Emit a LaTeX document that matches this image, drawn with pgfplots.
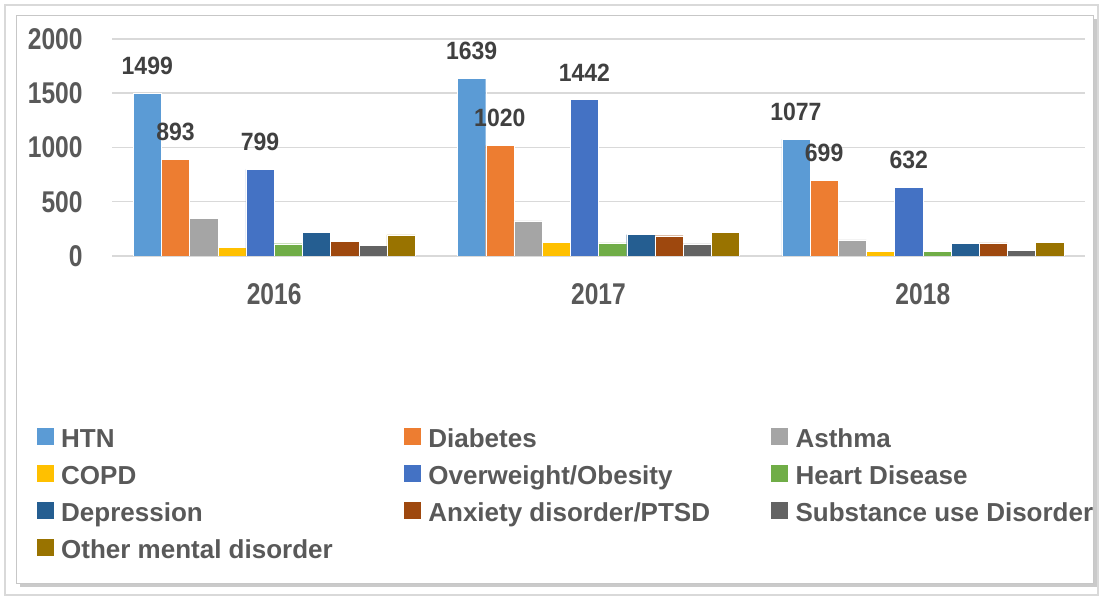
\documentclass[border=0pt]{standalone}
\usepackage{pgfplots}
\usepackage{pgfplotstable}
\pgfplotsset{compat=1.18}
\usetikzlibrary{shadows}
\usepackage{fontspec}
\setmainfont{Liberation Sans}
\newfontfamily\tickfont{Liberation Sans}[FakeStretch=0.82]
\newfontfamily\labelfont{Liberation Sans}[FakeStretch=0.92]

% Office palette
\definecolor{cHTN}{HTML}{5B9BD5}
\definecolor{cDia}{HTML}{ED7D31}
\definecolor{cAst}{HTML}{A5A5A5}
\definecolor{cCOPD}{HTML}{FFC000}
\definecolor{cObe}{HTML}{4472C4}
\definecolor{cHeart}{HTML}{70AD47}
\definecolor{cDep}{HTML}{255E91}
\definecolor{cAnx}{HTML}{9E480E}
\definecolor{cSub}{HTML}{636363}
\definecolor{cOth}{HTML}{997300}
\definecolor{txt}{HTML}{595959}
\definecolor{lbl}{HTML}{404040}
\definecolor{gridc}{HTML}{D9D9D9}

% fixed-width legend text so the three columns line up like the original
\newcommand{\legtext}[1]{\makebox[171.5pt][l]{#1}}

% year index, then one column per condition
\pgfplotstableread{
x HTN  Dia  Ast COPD Obe  Heart Dep Anx Sub Oth
0 1499 893  350 77   799  113   221 135 101 194
1 1639 1020 323 129  1442 120   197 187 111 218
2 1077 699  148 46   632  46    117 120 55  126
}\data

\begin{document}
\begin{tikzpicture}
    \useasboundingbox (0,0) rectangle (551pt,299.5pt);
    % frame
    \draw[gridc, line width=0.6pt] (2.5pt,2pt) rectangle (549pt,297pt);
    \draw[draw=black!22, fill=white,
          drop shadow={shadow xshift=2pt, shadow yshift=-2pt, opacity=0.35, fill=black!60}]
        (8pt,8pt) rectangle (546.5pt,292pt);

    \begin{axis}[
        at = {(56pt,171.5pt)}, anchor = south west,
        scale only axis,
        width  = 486.5pt,
        height = 108.5pt,
        ybar = 0pt,
        bar width = 14.1pt,
        xmin = -0.5, xmax = 2.5,
        ymin = 0, ymax = 2000,
        xtick = {0,1,2},
        xticklabels = {2016,2017,2018},
        ytick = {0,500,...,2000},
        major tick length = 0pt,
        axis line style = {draw=none},
        ymajorgrids = true,
        xmajorgrids = false,
        grid style = {draw=gridc, line width=0.75pt},
        /pgf/number format/1000 sep = {},
        xticklabel style = {font=\tickfont\bfseries\fontsize{15}{18}\selectfont, text=txt,
                            anchor=north, inner sep=0pt, yshift=-13.5pt},
        yticklabel style = {font=\tickfont\bfseries\fontsize{15}{18}\selectfont, text=txt,
                            anchor=east, inner sep=0pt, xshift=-14.5pt},
        /pgf/number format/assume math mode = true,
        every node near coord/.append style = {
            font = \labelfont\bfseries\fontsize{12.5}{15}\selectfont,
            text = lbl, anchor = south, inner sep = 0pt, yshift = 9pt,
            /pgf/number format/1000 sep = {}
        },
        legend columns = 3,
        legend cell align = left,
        legend image code/.code = {
            \fill[#1, draw=none] (0pt,-1.9pt) rectangle (8.3pt,6.6pt);
            \path (12pt,0pt);
        },
        legend style = {
            at = {(axis description cs:-0.0771,-0.7926)},
            anchor = north west,
            draw = none, fill = none,
            inner sep = 0pt, outer sep = 0pt,
            row sep = 5.6pt,
            font = \bfseries\fontsize{13}{15}\selectfont,
            text = txt,
            nodes = {inner sep=0pt, text height=9.5pt, text depth=3pt}
        }
    ]
        \addplot[fill=cHTN,   draw=white, line width=0.2pt, nodes near coords] table[x=x, y=HTN]   {\data};
        \addplot[fill=cDia,   draw=white, line width=0.2pt, nodes near coords] table[x=x, y=Dia]   {\data};
        \addplot[fill=cAst,   draw=white, line width=0.2pt] table[x=x, y=Ast]   {\data};
        \addplot[fill=cCOPD,  draw=white, line width=0.2pt] table[x=x, y=COPD]  {\data};
        \addplot[fill=cObe,   draw=white, line width=0.2pt, nodes near coords] table[x=x, y=Obe]   {\data};
        \addplot[fill=cHeart, draw=white, line width=0.2pt] table[x=x, y=Heart] {\data};
        \addplot[fill=cDep,   draw=white, line width=0.2pt] table[x=x, y=Dep]   {\data};
        \addplot[fill=cAnx,   draw=white, line width=0.2pt] table[x=x, y=Anx]   {\data};
        \addplot[fill=cSub,   draw=white, line width=0.2pt] table[x=x, y=Sub]   {\data};
        \addplot[fill=cOth,   draw=white, line width=0.2pt] table[x=x, y=Oth]   {\data};

        \legend{\legtext{HTN}, \legtext{Diabetes}, \legtext{Asthma}, \legtext{COPD},
                \legtext{Overweight/Obesity}, \legtext{Heart Disease}, \legtext{Depression},
                \legtext{Anxiety disorder/PTSD}, \legtext{Substance use Disorder},
                \legtext{Other mental disorder}}
    \end{axis}
\end{tikzpicture}
\end{document}
